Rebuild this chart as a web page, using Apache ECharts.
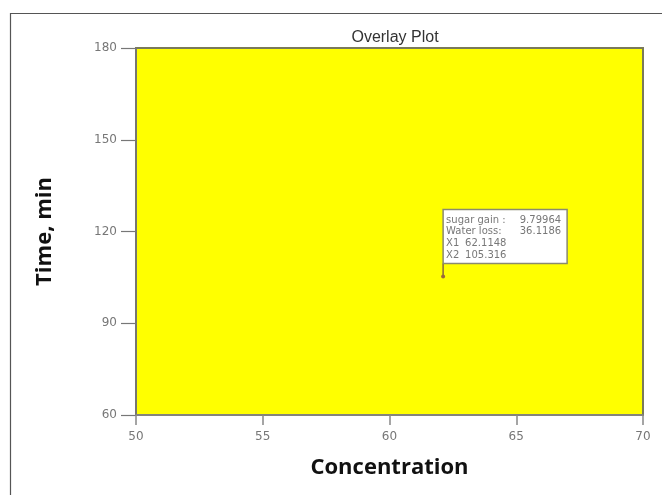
<!DOCTYPE html>
<html>
<head>
<meta charset="utf-8">
<script src="https://cdn.jsdelivr.net/npm/echarts@6/dist/echarts.min.js"></script>
<style>
  html, body { margin: 0; padding: 0; background: #fff; }
  #chart { width: 662px; height: 495px; }
</style>
</head>
<body>
<div id="chart"></div>
<script>
// Axis ranges and ticks
const xTicks = [50, 55, 60, 65, 70];
const yTicks = [60, 90, 120, 150, 180];

// Selected optimum point (X1 = concentration, X2 = time)
const optimumPoint = [62.1148, 105.316];

// Flag text rows: [label, value]
const flagRows = [
  ['sugar gain :', '9.79964'],
  ['Water loss:', '36.1186'],
  ['X1', '62.1148'],
  ['X2', '105.316']
];

const chart = echarts.init(document.getElementById('chart'), null, { renderer: 'canvas' });

const tickFont = { color: '#777', fontSize: 12, fontFamily: 'DejaVu Sans, sans-serif' };
const nameFont = { color: '#111', fontSize: 22, fontWeight: 'bold', fontFamily: 'Open Sans, sans-serif' };
const flagFont = 'DejaVu Sans, sans-serif';

chart.setOption({
  animation: false,
  backgroundColor: '#fff',
  title: {
    text: 'Overlay Plot',
    left: 390,
    textAlign: 'center',
    top: 25,
    textStyle: { color: '#333', fontSize: 16, fontWeight: 'normal', fontFamily: 'Liberation Sans, Arial, sans-serif' }
  },
  graphic: [{
    type: 'polyline',
    shape: { points: [[10.5, 500], [10.5, 13.5], [670, 13.5]] },
    style: { stroke: '#555', lineWidth: 1.2, fill: null },
    silent: true
  }],
  grid: {
    left: 136, right: 19, top: 48, bottom: 80,
    show: true,
    backgroundColor: '#ffff00',
    borderColor: '#7a7a5a',
    borderWidth: 2
  },
  xAxis: {
    type: 'value',
    min: xTicks[0], max: xTicks[xTicks.length - 1], interval: xTicks[1] - xTicks[0],
    name: 'Concentration',
    nameLocation: 'middle',
    nameGap: 42,
    nameTextStyle: nameFont,
    axisLine: { show: true, lineStyle: { color: '#888', width: 1.5 } },
    axisTick: { show: true, length: 10, lineStyle: { color: '#888', width: 1.5 } },
    axisLabel: Object.assign({ margin: 16 }, tickFont),
    splitLine: { show: false }
  },
  yAxis: {
    type: 'value',
    min: yTicks[0], max: yTicks[yTicks.length - 1], interval: yTicks[1] - yTicks[0],
    name: 'Time, min',
    nameLocation: 'middle',
    nameGap: 80,
    nameTextStyle: nameFont,
    axisLine: { show: true, lineStyle: { color: '#777', width: 1.5 } },
    axisTick: { show: true, length: 15, lineStyle: { color: '#777', width: 1.2 } },
    axisLabel: Object.assign({ margin: 19 }, tickFont),
    splitLine: { show: false }
  },
  series: [{
    type: 'custom',
    coordinateSystem: 'cartesian2d',
    data: [optimumPoint],
    clip: false,
    renderItem: function (params, api) {
      const p = api.coord([api.value(0), api.value(1)]);
      const stem = 13, boxW = 124, boxH = 54, lineH = 11.7;
      const boxTop = p[1] - stem - boxH;
      const children = [
        { type: 'line', shape: { x1: p[0], y1: p[1], x2: p[0], y2: p[1] - stem },
          style: { stroke: '#8a6a3a', lineWidth: 1.5 } },
        { type: 'circle', shape: { cx: p[0], cy: p[1], r: 2 },
          style: { fill: '#9a6a3a' } },
        { type: 'rect', shape: { x: p[0], y: boxTop, width: boxW, height: boxH },
          style: { fill: '#fff', stroke: '#8a8a70', lineWidth: 1.5 } }
      ];
      flagRows.forEach(function (row, i) {
        const y = boxTop + 10.5 + i * lineH;
        const wide = i < 2;
        children.push({ type: 'text', style: { text: row[0], x: p[0] + 3, y: y,
          fill: '#777', fontSize: 10, fontFamily: flagFont, verticalAlign: 'middle' } });
        children.push({ type: 'text', style: wide
          ? { text: row[1], x: p[0] + 118, y: y, align: 'right',
              fill: '#777', fontSize: 10, fontFamily: flagFont, verticalAlign: 'middle' }
          : { text: row[1], x: p[0] + 22, y: y,
              fill: '#777', fontSize: 10, fontFamily: flagFont, verticalAlign: 'middle' } });
      });
      return { type: 'group', children: children };
    }
  }]
});
</script>
</body>
</html>
